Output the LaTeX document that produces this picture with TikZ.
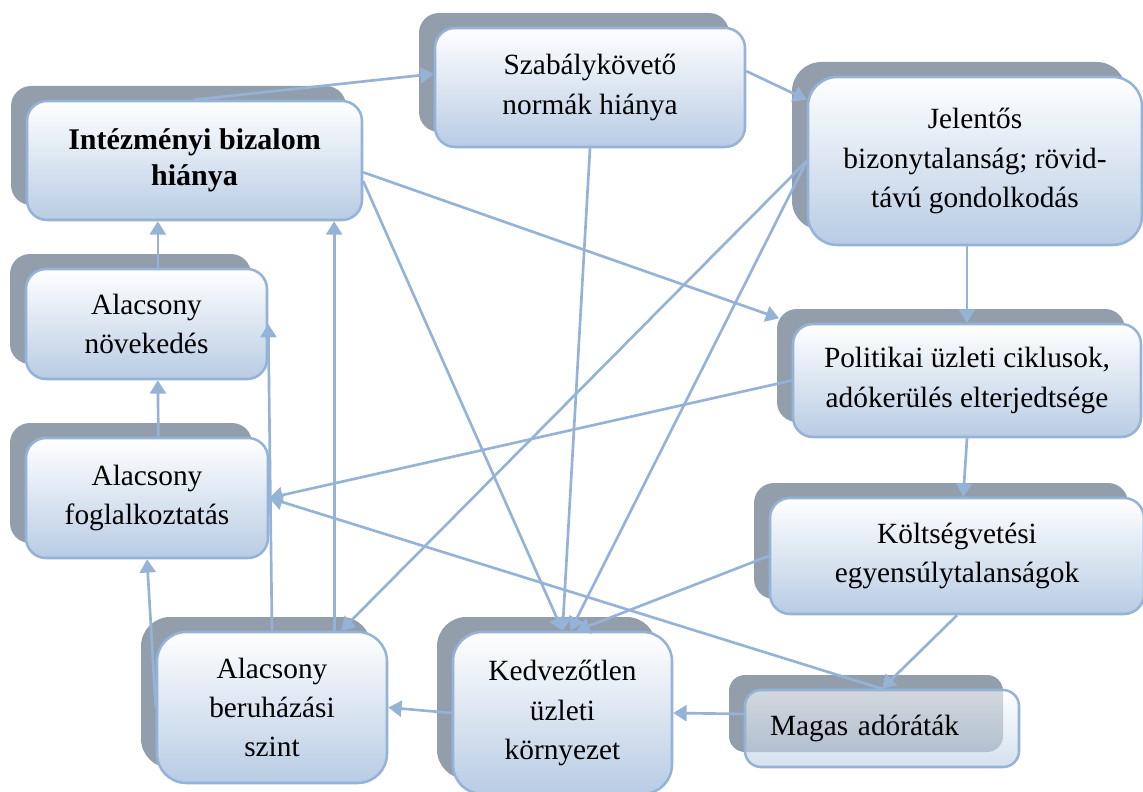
\documentclass[tikz,border=0pt]{standalone}
\usepackage{fontspec}
\setmainfont{Liberation Serif}
\usepackage{xcolor}
\definecolor{lineblue}{RGB}{149,179,215}
\definecolor{boxblue}{RGB}{184,204,228}
\definecolor{shadowgray}{RGB}{146,158,172}
\usetikzlibrary{arrows.meta, shadows, calc}

\newcommand{\causefont}{\fontsize{22}{29.5}\selectfont}

\tikzset{
  causebox/.style={draw=lineblue, line width=1.9pt, rounded corners=15pt,
    top color=white, bottom color=boxblue, align=center, inner sep=0pt,
    font=\causefont,
    general shadow={fill=shadowgray, fill opacity=1, shadow xshift=-12pt, shadow yshift=11.25pt}},
  causearrow/.style={draw=lineblue, line width=2pt, -{Triangle[length=10pt,width=12pt]}}
}

\begin{document}
\begin{tikzpicture}[x=0.75pt, y=-0.75pt]
  \useasboundingbox (0,0) rectangle (1143,792);

  % Left column
  \node[causebox, font={\fontsize{22.5}{27}\selectfont\bfseries}, minimum width=251.25pt, minimum height=89.25pt] (bizalom) at (194.5,160.5) {Intézményi bizalom\\hiánya};
  \node[causebox, minimum width=180.75pt, minimum height=82.5pt] (novekedes) at (146.5,324) {Alacsony\\növekedés};
  \node[causebox, minimum width=181.5pt, minimum height=90pt] (foglalk) at (147,498) {Alacsony\\foglalkoztatás};

  % Top row
  \node[causebox, minimum width=232.5pt, minimum height=89.25pt] (szabaly) at (590,87.5) {Szabálykövető\\normák hiánya};
  \node[causebox, rounded corners=22pt, minimum width=250.5pt, minimum height=126pt] (jelentos) at (975,161) {Jelentős\\bizonytalanság; rövid-\\távú gondolkodás};

  % Right column
  \node[causebox, minimum width=261pt, minimum height=84.75pt] (politikai) at (967,380.5) {Politikai üzleti ciklusok,\\adókerülés elterjedtsége};
  \node[causebox, minimum width=280.5pt, minimum height=87pt] (koltseg) at (957,556) {Költségvetési\\egyensúlytalanságok};
  \node[causebox, rounded corners=12pt, fill opacity=0.6, text opacity=1, align=left, text width=168pt, inner xsep=18.75pt, minimum height=57.75pt] (magas) at (882,728.5) {Magas adóráták};

  % Bottom row
  \node[causebox, rounded corners=22pt, minimum width=172.5pt, minimum height=113.25pt] (beruhazas) at (272,707.5) {Alacsony\\beruházási\\szint};
  \node[causebox, rounded corners=22pt, minimum width=164.25pt, minimum height=121.5pt] (kedvezotlen) at (562.5,713) {Kedvezőtlen\\üzleti\\környezet};

  % Connectors
  \draw[causearrow] (bizalom.north) -- (szabaly.175);
  \draw[causearrow] (szabaly.6) -- (jelentos.160);
  \draw[causearrow] (jelentos.south -| politikai.north) -- (politikai.north);
  \draw[causearrow] (politikai.south) -- (koltseg.84);
  \draw[causearrow] (koltseg.south) -- (magas.north);
  \draw[causearrow] (magas.174) -- (kedvezotlen.east);
  \draw[causearrow] (kedvezotlen.west) -- (beruhazas.east);
  \draw[causearrow] (beruhazas.north) -- (novekedes.east);
  \draw[causearrow] (beruhazas.51) -- (beruhazas.51 |- bizalom.south);
  \draw[causearrow] (beruhazas.west) -- (foglalk.south);
  \draw[causearrow] ([xshift=8.5pt]foglalk.north) -- ([xshift=8.5pt]novekedes.south);
  \draw[causearrow] ([xshift=8.5pt]novekedes.north) -- ([xshift=8.5pt]novekedes.north |- bizalom.south);
  \draw[causearrow] (politikai.west) -- (foglalk.east);
  \draw[causearrow] (magas.north) -- (foglalk.east);
  \draw[causearrow, shorten >=10pt] (bizalom.-4) -- (politikai.north west);
  \draw[causearrow] (bizalom.-7) -- (kedvezotlen.north);
  \draw[causearrow] (szabaly.south) -- (kedvezotlen.north);
  \draw[causearrow] (jelentos.west) -- (beruhazas.48);
  \draw[causearrow] (jelentos.west) -- ([xshift=6pt]kedvezotlen.north);
  \draw[causearrow] (koltseg.west) -- ([xshift=10.5pt]kedvezotlen.north);
\end{tikzpicture}
\end{document}
